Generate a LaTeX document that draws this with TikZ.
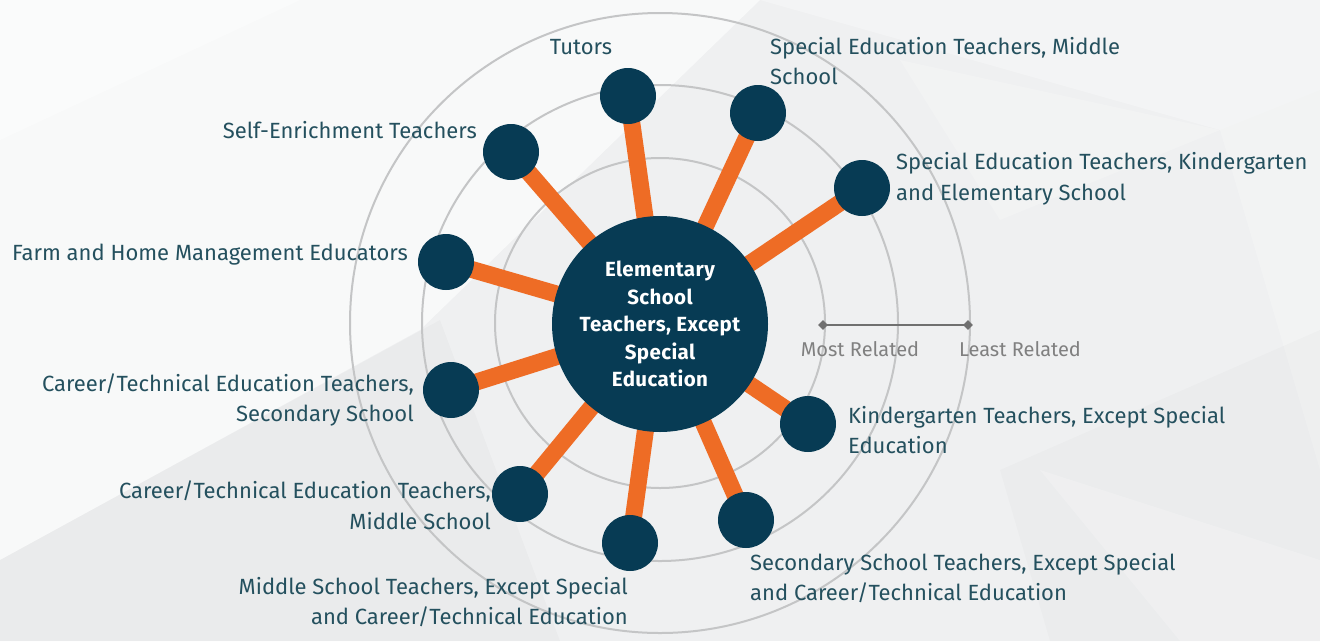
\documentclass[tikz,border=0pt]{standalone}
\usepackage{fontspec}
\setmainfont{Fira Sans}
\usetikzlibrary{shapes.geometric}
\definecolor{navy}{HTML}{073B54}
\definecolor{orng}{HTML}{EE6C25}
\definecolor{txt}{HTML}{24505E}
\definecolor{ring}{HTML}{C4C5C6}
\definecolor{scl}{HTML}{707070}
\definecolor{sclt}{HTML}{808080}
\definecolor{bgbase}{HTML}{EFF0F1}
\pgfdeclarelayer{back}
\pgfdeclarelayer{bg}
\pgfsetlayers{back,bg,main}
\tikzset{
  hub/.style={circle, fill=navy, minimum size=216pt, inner sep=0pt, text=white,
    font=\bfseries\fontsize{20.5}{27.5}\selectfont\addfontfeatures{LetterSpace=2}, align=center},
  sat/.style={circle, fill=navy, minimum size=56pt, inner sep=0pt},
  bar/.style={orng, line width=17pt},
  ringline/.style={ring, line width=2pt},
  lbl/.style={text=txt, font=\fontsize{22}{30.5}\selectfont, inner sep=0pt},
  lbll/.style={lbl, anchor=west, align=left},
  lblr/.style={lbl, anchor=east, align=right},
  dia/.style={diamond, fill=scl, minimum size=10pt, inner sep=0pt},
  sclbl/.style={text=sclt, font=\fontsize{20}{24}\selectfont, inner sep=0pt}
}
\begin{document}
\begin{tikzpicture}[x=1pt,y=-1pt]
\useasboundingbox (0,0) rectangle (1320,641);
\begin{pgfonlayer}{back}
  \fill[bgbase] (0,0) rectangle (1320,641);
  \fill[white, opacity=0.6] (0,0) -- (760,0) -- (420,330) -- (0,560) -- cycle;
  \fill[white, opacity=0.4] (0,0) -- (300,0) -- (0,140) -- cycle;
  \fill[white, opacity=0.3] (760,0) -- (1320,0) -- (1320,90) -- (1220,130) -- cycle;
  \fill[white, opacity=0.2] (900,60) -- (1220,130) -- (1000,220) -- cycle;
  \fill[white, opacity=0.2] (1220,130) -- (1320,90) -- (1320,470) -- cycle;
  \fill[black, opacity=0.02] (0,560) -- (440,320) -- (560,641) -- (0,641) -- cycle;
  \fill[black, opacity=0.015] (1000,470) -- (1320,330) -- (1320,641) -- (1050,641) -- cycle;
  \fill[white, opacity=0.2] (1040,470) -- (1320,560) -- (1320,641) -- (1180,641) -- cycle;
\end{pgfonlayer}

\node[hub] (hub) at (660,324) {Elementary\\School\\Teachers, Except\\Special\\Education};

\node[sat] (tut) at (628,96) {};
\node[sat] (sem) at (758,113) {};
\node[sat] (sek) at (862,188) {};
\node[sat] (sen) at (511,152) {};
\node[sat] (frm) at (446,262) {};
\node[sat] (cts) at (451,390) {};
\node[sat] (ctm) at (520,494) {};
\node[sat] (mst) at (630,543) {};
\node[sat] (sst) at (746,520) {};
\node[sat] (kin) at (808,424) {};

\begin{pgfonlayer}{bg}
  \coordinate (c0) at (660,323);
  \draw[ringline] (c0) circle[radius=165];
  \draw[ringline] (c0) circle[radius=238];
  \draw[ringline] (c0) circle[radius=310];
  \foreach \s in {tut,sem,sek,sen,frm,cts,ctm,mst,sst,kin}
    \draw[bar] (hub.center) -- (\s.center);
\end{pgfonlayer}

\node[lbl, anchor=center] (ltut) at (581,47) {Tutors};
\node[lbll] (lsem) at (770,61) {Special Education Teachers, Middle\\School};
\node[lbll] (lsek) at (896,179) {Special Education Teachers, Kindergarten\\and Elementary School};
\node[lblr] (lsen) at (477,130) {Self-Enrichment Teachers};
\node[lblr] (lfrm) at (408,255) {Farm and Home Management Educators};
\node[lblr] (lcts) at (414,400) {Career/Technical Education Teachers,\\Secondary School};
\node[lblr] (lctm) at (491,505) {Career/Technical Education Teachers,\\Middle School};
\node[lblr] (lmst) at (628,602) {Middle School Teachers, Except Special\\and Career/Technical Education};
\node[lbll] (lsst) at (750,578) {Secondary School Teachers, Except Special\\and Career/Technical Education};
\node[lbll] (lkin) at (848,430) {Kindergarten Teachers, Except Special\\Education};

\node[dia] (d1) at (823,325) {};
\node[dia] (d2) at (968,325) {};
\draw[scl, line width=2.5pt] (d1.center) -- (d2.center);
\node[sclbl, anchor=center] (most) at (860,349) {Most Related};
\node[sclbl, anchor=center] (least) at (1020,349) {Least Related};
\end{tikzpicture}
\end{document}
